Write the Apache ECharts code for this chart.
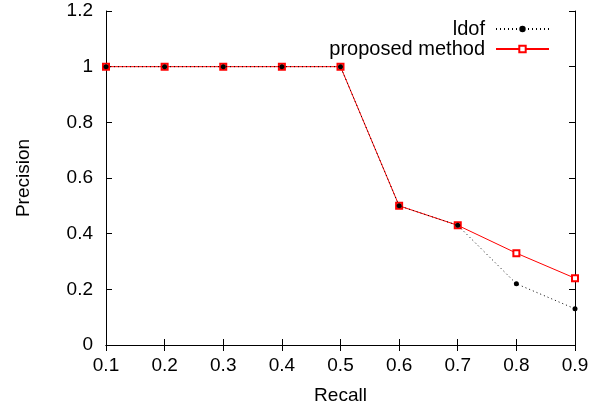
<!DOCTYPE html>
<html>
<head>
<meta charset="utf-8">
<script src="https://cdn.jsdelivr.net/npm/echarts@6/dist/echarts.min.js"></script>
<style>
  html, body { margin: 0; padding: 0; background: #fff; }
  #main { width: 592px; height: 410px; }
</style>
</head>
<body>
<div id="main"></div>
<script>
// recall values on the x axis
var recall = [0.1, 0.2, 0.3, 0.4, 0.5, 0.6, 0.7, 0.8, 0.9];
var ldofPrecision = [1, 1, 1, 1, 1, 0.5, 0.43, 0.22, 0.13];
var proposedPrecision = [1, 1, 1, 1, 1, 0.5, 0.43, 0.33, 0.24];

function pairs(xs, ys) {
  return xs.map(function (x, i) { return [x, ys[i]]; });
}

var chart = echarts.init(document.getElementById('main'));
var font = 'Liberation Sans, Arial, sans-serif';

var tickStyle = { show: true, inside: true, length: 6, lineStyle: { color: '#000', width: 1 } };

var option = {
  animation: false,
  backgroundColor: '#fff',
  textStyle: { fontFamily: font },
  grid: { left: 106, right: 17, top: 11, bottom: 65, containLabel: false },
  legend: {
    orient: 'vertical',
    right: 37,
    top: 14,
    align: 'right',
    itemWidth: 53,
    itemHeight: 8,
    itemGap: 0,
    textStyle: { fontFamily: font, fontSize: 20, color: '#000', padding: [0, 6, 0, 0] },
    data: ['ldof', 'proposed method']
  },
  xAxis: [{
    type: 'value',
    min: 0.1, max: 0.9, interval: 0.1,
    name: 'Recall',
    nameLocation: 'middle',
    nameGap: 41,
    nameTextStyle: { fontFamily: font, fontSize: 19, color: '#000' },
    axisLine: { show: true, lineStyle: { color: '#000', width: 1 } },
    axisTick: tickStyle,
    axisLabel: {
      fontFamily: font, fontSize: 19, color: '#000', margin: 11,
      formatter: function (v) { return v.toFixed(1); }
    },
    splitLine: { show: false }
  }, {
    type: 'value', position: 'top',
    min: 0.1, max: 0.9, interval: 0.1,
    axisLine: { show: true, lineStyle: { color: '#000', width: 1 } },
    axisTick: tickStyle,
    axisLabel: { show: false },
    splitLine: { show: false }
  }],
  yAxis: [{
    type: 'value',
    min: 0, max: 1.2, interval: 0.2,
    name: 'Precision',
    nameLocation: 'middle',
    nameGap: 73,
    nameTextStyle: { fontFamily: font, fontSize: 19, color: '#000' },
    axisLine: { show: true, lineStyle: { color: '#000', width: 1 } },
    axisTick: tickStyle,
    axisLabel: {
      fontFamily: font, fontSize: 19, color: '#000', margin: 13,
      formatter: function (v) { return String(+v.toFixed(1)); }
    },
    splitLine: { show: false }
  }, {
    type: 'value', position: 'right',
    min: 0, max: 1.2, interval: 0.2,
    axisLine: { show: true, lineStyle: { color: '#000', width: 1 } },
    axisTick: tickStyle,
    axisLabel: { show: false },
    splitLine: { show: false }
  }],
  series: [{
    name: 'proposed method',
    type: 'line',
    data: pairs(recall, proposedPrecision),
    symbol: 'emptyRect',
    symbolSize: 6,
    lineStyle: { color: '#ff0000', width: 1 },
    itemStyle: { color: '#ff0000', borderWidth: 1 },
    z: 2
  }, {
    name: 'ldof',
    type: 'line',
    data: pairs(recall, ldofPrecision),
    symbol: 'circle',
    symbolSize: 5,
    lineStyle: { color: '#000', width: 1, type: [1, 3] },
    itemStyle: { color: '#000' },
    z: 3
  }]
};

chart.setOption(option);
</script>
</body>
</html>
